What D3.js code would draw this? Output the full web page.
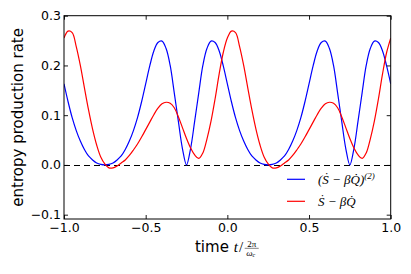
<!DOCTYPE html>
<html>
<head>
<meta charset="utf-8">
<script src="https://cdn.jsdelivr.net/npm/d3@7"></script>
<style>
  body { margin: 0; background: #fff; }
  svg { display: block; }
  .tick text { font-family: "DejaVu Sans", sans-serif; font-size: 12.5px; fill: #000; }
  .math { font-family: "Liberation Serif", serif; font-style: italic; }
</style>
</head>
<body>
<svg id="chart" width="411" height="274"></svg>
<script>
// time grid, one sample every 0.025 from -1 to 1
var times = d3.range(81).map(function(i) { return Math.round((-1 + i * 0.025) * 1000) / 1000; });

// (S - beta Q)^(2)
var secondOrder = [
    0.163, 0.127, 0.095, 0.069, 0.048, 0.031, 0.018, 0.010, 0.004, 0.001,
    0.000, 0.001, 0.004, 0.010, 0.018, 0.031, 0.048, 0.069, 0.095, 0.127,
    0.163, 0.199, 0.229, 0.246, 0.249, 0.234, 0.200, 0.145, 0.088, 0.033,
    0.000, 0.033, 0.088, 0.145, 0.200, 0.234, 0.249, 0.246, 0.229, 0.199,
    0.163, 0.127, 0.095, 0.069, 0.048, 0.031, 0.018, 0.010, 0.004, 0.001,
    0.000, 0.001, 0.004, 0.010, 0.018, 0.031, 0.048, 0.069, 0.095, 0.127,
    0.163, 0.199, 0.229, 0.246, 0.249, 0.234, 0.200, 0.145, 0.088, 0.033,
    0.000, 0.033, 0.088, 0.145, 0.200, 0.234, 0.249, 0.246, 0.229, 0.199,
    0.163
];

// S - beta Q
var fullRate = [
    0.255, 0.269, 0.266, 0.238, 0.200, 0.155, 0.111, 0.072, 0.040, 0.016,
    0.002, -0.006, -0.006, -0.002, 0.004, 0.010, 0.019, 0.030, 0.042, 0.056,
    0.071, 0.086, 0.101, 0.114, 0.123, 0.126, 0.124, 0.115, 0.097, 0.075,
    0.053, 0.034, 0.020, 0.013, 0.024, 0.052, 0.088, 0.133, 0.183, 0.226,
    0.255, 0.269, 0.266, 0.238, 0.200, 0.155, 0.111, 0.072, 0.040, 0.016,
    0.002, -0.006, -0.006, -0.002, 0.004, 0.010, 0.019, 0.030, 0.042, 0.056,
    0.071, 0.086, 0.101, 0.114, 0.123, 0.126, 0.124, 0.115, 0.097, 0.075,
    0.053, 0.034, 0.020, 0.013, 0.024, 0.052, 0.088, 0.133, 0.183, 0.226,
    0.255
];

var xTicks = [-1.0, -0.5, 0.0, 0.5, 1.0];
var yTicks = [-0.1, 0.0, 0.1, 0.2, 0.3];

(function() {
    var pLeft = 64, pRight = 390.7, pTop = 15.7, pBottom = 219;

    var svg = d3.select('#chart');

    var x = d3.scaleLinear().domain([-1, 1]).range([pLeft, pRight]);
    var y = d3.scaleLinear().domain([-0.1087, 0.3]).range([pBottom, pTop]);

    svg.append('clipPath').attr('id', 'plotclip')
        .append('rect')
        .attr('x', pLeft).attr('y', pTop)
        .attr('width', pRight - pLeft).attr('height', pBottom - pTop);

    // dashed zero line
    svg.append('line')
        .attr('x1', pLeft).attr('x2', pRight)
        .attr('y1', Math.round(y(0)) + 0.5).attr('y2', Math.round(y(0)) + 0.5)
        .attr('stroke', '#000')
        .attr('stroke-width', 1.2)
        .attr('stroke-dasharray', '6,4');

    var line = d3.line()
        .x(function(d) { return x(d[0]); })
        .y(function(d) { return y(d[1]); })
        .curve(d3.curveCatmullRom.alpha(0.5));

    var plot = svg.append('g').attr('clip-path', 'url(#plotclip)');

    plot.append('path')
        .datum(times.map(function(t, i) { return [t, secondOrder[i]]; }))
        .attr('d', line)
        .attr('fill', 'none')
        .attr('stroke', '#0000ff')
        .attr('stroke-width', 1.2);

    plot.append('path')
        .datum(times.map(function(t, i) { return [t, fullRate[i]]; }))
        .attr('d', line)
        .attr('fill', 'none')
        .attr('stroke', '#ff0000')
        .attr('stroke-width', 1.2);

    // axes, ticks pointing inwards on all four sides
    var fmt = d3.format('.1f');

    svg.append('g')
        .attr('transform', 'translate(0,' + pBottom + ')')
        .call(d3.axisBottom(x).tickValues(xTicks).tickFormat(fmt).tickSizeInner(-4).tickSizeOuter(0).tickPadding(4));
    svg.append('g')
        .attr('transform', 'translate(' + pLeft + ',0)')
        .call(d3.axisLeft(y).tickValues(yTicks).tickFormat(fmt).tickSizeInner(-4).tickSizeOuter(0).tickPadding(3));
    svg.append('g')
        .attr('transform', 'translate(0,' + pTop + ')')
        .call(d3.axisTop(x).tickValues(xTicks).tickFormat('').tickSizeInner(-4).tickSizeOuter(0));
    svg.append('g')
        .attr('transform', 'translate(' + pRight + ',0)')
        .call(d3.axisRight(y).tickValues(yTicks).tickFormat('').tickSizeInner(-4).tickSizeOuter(0));

    svg.selectAll('.domain').remove();
    svg.selectAll('.tick line').attr('stroke', '#000').attr('stroke-width', 0.9);

    svg.append('rect')
        .attr('x', pLeft).attr('y', pTop)
        .attr('width', pRight - pLeft).attr('height', pBottom - pTop)
        .attr('fill', 'none')
        .attr('stroke', '#000')
        .attr('stroke-width', 1);

    // y label
    svg.append('text')
        .attr('transform', 'translate(23,' + ((pTop + pBottom) / 2) + ') rotate(-90)')
        .attr('text-anchor', 'middle')
        .style('font-family', '"DejaVu Sans", sans-serif')
        .style('font-size', '15px')
        .text('entropy production rate');

    // x label: time t / (2pi / omega_c)
    var xl = svg.append('g');
    var word = xl.append('text')
        .attr('x', 0).attr('y', 252)
        .style('font-family', '"DejaVu Sans", sans-serif')
        .style('font-size', '15px')
        .text('time');
    var wWord = word.node().getComputedTextLength() + 5;
    var tv = xl.append('text')
        .attr('class', 'math')
        .attr('x', wWord).attr('y', 252)
        .style('font-size', '15px')
        .text('t');
    var slashX = wWord + tv.node().getComputedTextLength() + 1;
    var sl = xl.append('text')
        .attr('x', slashX).attr('y', 252)
        .style('font-family', '"Liberation Serif", serif')
        .style('font-size', '15px')
        .text('/');
    var fracX = slashX + sl.node().getComputedTextLength() + 0.5;
    xl.append('text')
        .attr('x', fracX + 8).attr('y', 246.5)
        .attr('text-anchor', 'middle')
        .style('font-family', '"Liberation Serif", serif')
        .style('font-size', '9px')
        .text('2π');
    xl.append('line')
        .attr('x1', fracX + 1).attr('x2', fracX + 15)
        .attr('y1', 248.3).attr('y2', 248.3)
        .attr('stroke', '#000').attr('stroke-width', 0.5);
    var den = xl.append('text')
        .attr('class', 'math')
        .attr('x', fracX + 2.5).attr('y', 255.5)
        .style('font-size', '9px');
    den.append('tspan').text('ω');
    den.append('tspan').attr('dy', 1.5).style('font-size', '6px').text('c');
    var totalW = fracX + 16;
    xl.attr('transform', 'translate(' + ((pLeft + pRight) / 2 - totalW / 2) + ',0)');

    // legend, no frame
    var legend = svg.append('g');
    var rows = [
        { color: '#0000ff', y: 179.3, parts: ['(Ṡ − βQ̇)', '(2)'] },
        { color: '#ff0000', y: 201.3, parts: ['Ṡ − βQ̇'] }
    ];
    rows.forEach(function(r) {
        legend.append('line')
            .attr('x1', 287).attr('x2', 305)
            .attr('y1', r.y).attr('y2', r.y)
            .attr('stroke', r.color).attr('stroke-width', 1.2);
        var t = legend.append('text')
            .attr('class', 'math')
            .attr('x', 318).attr('y', r.y + 4.5)
            .style('font-size', '13px');
        t.append('tspan').text(r.parts[0]);
        if (r.parts[1]) {
            t.append('tspan').attr('dy', -5).style('font-size', '9px').text(r.parts[1]);
        }
    });
})();
</script>
</body>
</html>
